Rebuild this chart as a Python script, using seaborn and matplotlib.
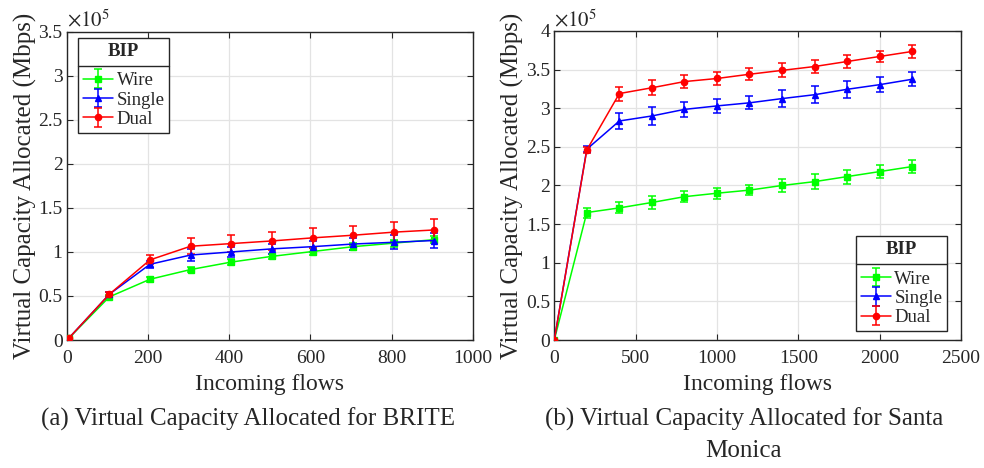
import numpy as np
import pandas as pd
import matplotlib
matplotlib.use("Agg")
import matplotlib.pyplot as plt
from matplotlib.lines import Line2D
from matplotlib.legend_handler import HandlerTuple
import seaborn as sns

# Virtual capacity allocated (units of 1e5 Mbps)
schemes = ["Wire", "Single", "Dual"]

brite_flows = [5, 105, 205, 305, 405, 505, 605, 705, 805, 905]
brite_wire = [0.02, 0.49, 0.69, 0.80, 0.885, 0.95, 1.005, 1.06, 1.10, 1.14]
brite_single = [0.02, 0.52, 0.86, 0.965, 1.00, 1.035, 1.06, 1.09, 1.11, 1.13]
brite_dual = [0.02, 0.52, 0.91, 1.065, 1.095, 1.125, 1.16, 1.19, 1.225, 1.25]
brite_wire_err = [0.01, 0.02, 0.03, 0.03, 0.03, 0.03, 0.04, 0.04, 0.04, 0.04]
brite_single_err = [0.01, 0.03, 0.04, 0.07, 0.06, 0.06, 0.06, 0.07, 0.08, 0.085]
brite_dual_err = [0.01, 0.02, 0.05, 0.09, 0.10, 0.105, 0.11, 0.11, 0.115, 0.12]

sm_flows = [0, 200, 400, 600, 800, 1000, 1200, 1400, 1600, 1800, 2000, 2200]
sm_wire = [0.0, 1.65, 1.71, 1.78, 1.855, 1.90, 1.94, 2.00, 2.05, 2.115, 2.18, 2.245]
sm_single = [0.0, 2.47, 2.835, 2.90, 2.985, 3.03, 3.07, 3.125, 3.175, 3.245, 3.305, 3.375]
sm_dual = [0.0, 2.46, 3.19, 3.265, 3.345, 3.385, 3.44, 3.49, 3.54, 3.605, 3.67, 3.735]
sm_wire_err = [0.0, 0.065, 0.07, 0.085, 0.075, 0.07, 0.065, 0.085, 0.10, 0.09, 0.08, 0.085]
sm_single_err = [0.0, 0.04, 0.10, 0.115, 0.10, 0.09, 0.085, 0.11, 0.11, 0.11, 0.095, 0.09]
sm_dual_err = [0.0, 0.04, 0.09, 0.10, 0.085, 0.08, 0.075, 0.09, 0.09, 0.085, 0.075, 0.08]

colors = {"Wire": (0, 1, 0), "Single": (0, 0, 1), "Dual": (1, 0, 0)}
markers = {"Wire": "s", "Single": "^", "Dual": "o"}

sns.set_theme(style="whitegrid")
plt.rcParams["font.family"] = ["Liberation Serif", "DejaVu Serif"]
plt.rcParams["mathtext.fontset"] = "stix"

fig = plt.figure(figsize=(9.84, 4.68), dpi=100)
ax_a = fig.add_axes([0.0678, 0.2735, 0.4129, 0.6585])
ax_b = fig.add_axes([0.5633, 0.2735, 0.4133, 0.6603])


def build_frame(x, series):
    rows = []
    for name, vals in zip(schemes, series):
        for xi, yi in zip(x, vals):
            rows.append({"flows": xi, "capacity": yi, "scheme": name})
    return pd.DataFrame(rows)


def draw_panel(ax, x, series, errs, xlim, xticks, ylim, yticks, legend_loc, legend_anchor):
    df = build_frame(x, series)
    sns.lineplot(data=df, x="flows", y="capacity", hue="scheme", style="scheme",
                 palette=colors, markers=markers, dashes=False, estimator=None,
                 linewidth=1.1, markersize=4.5, markeredgewidth=1.0,
                 legend=False, ax=ax, zorder=3)
    handles = []
    for line, name, vals, err in zip(ax.lines[:3], schemes, series, errs):
        line.set_markerfacecolor(colors[name])
        line.set_markeredgecolor(colors[name])
        eb = ax.errorbar(x, vals, yerr=err, fmt="none", ecolor=colors[name],
                         elinewidth=1.1, capsize=3, capthick=1.1, zorder=2)
        proxy = Line2D([], [], color=colors[name], marker=markers[name],
                       markersize=4.5, linewidth=1.1)
        handles.append((eb, proxy))

    ax.set_xlim(*xlim)
    ax.set_ylim(*ylim)
    ax.set_xticks(xticks)
    ax.set_yticks(yticks)
    ax.set_yticklabels([("%g" % t) for t in yticks])
    ax.set_xlabel("Incoming flows", fontsize=17, labelpad=5)
    ax.set_ylabel("Virtual Capacity Allocated (Mbps)", fontsize=18, labelpad=1)
    ax.tick_params(axis="both", labelsize=14, direction="in", length=4,
                   width=0.8, bottom=True, left=True, top=True, right=True,
                   color="#262626", labelcolor="#262626")
    ax.tick_params(axis="x", pad=7)
    ax.tick_params(axis="y", pad=3)
    ax.grid(True, color="#e3e3e3", linewidth=0.9)
    for sp in ax.spines.values():
        sp.set_color("#262626")
        sp.set_linewidth(1.0)
    ax.text(0.0, 1.0, r"$\times10^{5}$", transform=ax.transAxes,
            fontsize=15, ha="left", va="bottom", color="#262626")

    leg = ax.legend(handles, schemes, title="BIP", loc=legend_loc,
                    bbox_to_anchor=legend_anchor, fontsize=13.5,
                    title_fontproperties={"weight": "bold", "size": 13.5},
                    handler_map={tuple: HandlerTuple(ndivide=1)},
                    frameon=True, fancybox=False, edgecolor="#262626",
                    framealpha=1.0, handlelength=1.6, handletextpad=0.2,
                    borderpad=0.25, labelspacing=0.12, borderaxespad=0.0)
    leg.get_frame().set_linewidth(1.0)
    leg._legend_box.sep = 9
    leg.set_zorder(5)
    return leg


leg_a = draw_panel(ax_a, brite_flows, [brite_wire, brite_single, brite_dual],
                   [brite_wire_err, brite_single_err, brite_dual_err],
                   (0, 1000), np.arange(0, 1001, 200), (0, 3.5),
                   np.arange(0, 3.51, 0.5), "upper left", (0.028, 0.98))
leg_b = draw_panel(ax_b, sm_flows, [sm_wire, sm_single, sm_dual],
                   [sm_wire_err, sm_single_err, sm_dual_err],
                   (0, 2500), np.arange(0, 2501, 500), (0, 4),
                   np.arange(0, 4.01, 0.5), "lower right", (0.966, 0.029))

# Rule under each legend title
fig.canvas.draw()
renderer = fig.canvas.get_renderer()
inv = fig.transFigure.inverted()
for leg in (leg_a, leg_b):
    fb = leg.get_frame().get_window_extent(renderer)
    tb = leg.get_title().get_window_extent(renderer)
    hb = leg._legend_handle_box.get_window_extent(renderer)
    yline = 0.5 * (tb.y0 + hb.y1)
    (x0, y0) = inv.transform((fb.x0, yline))
    (x1, _) = inv.transform((fb.x1, yline))
    fig.add_artist(Line2D([x0, x1], [y0, y0], color="#262626", linewidth=1.0,
                         transform=fig.transFigure, zorder=10))

fig.text(0.252, 0.105, "(a) Virtual Capacity Allocated for BRITE",
         fontsize=18, ha="center", va="center")
fig.text(0.756, 0.105, "(b) Virtual Capacity Allocated for Santa",
         fontsize=18, ha="center", va="center")
fig.text(0.756, 0.036, "Monica", fontsize=18, ha="center", va="center")

fig.savefig("out.png", dpi=100, facecolor="white")
